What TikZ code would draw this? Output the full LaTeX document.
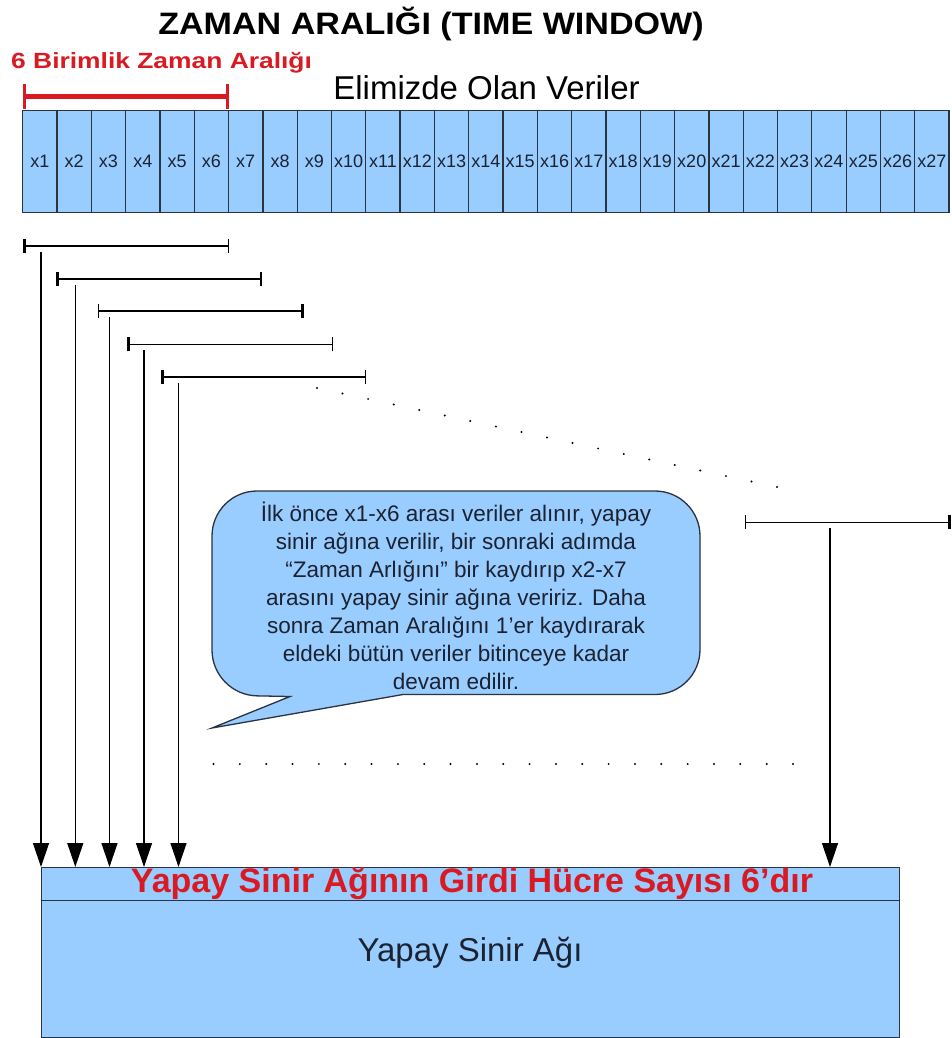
\documentclass[tikz,border=0pt]{standalone}
\usepackage{fontspec}
\setmainfont{Liberation Sans}
\newfontfamily\titlefont{Liberation Sans}[FakeStretch=1.1]
\newfontfamily\labelfont{Liberation Sans}[FakeStretch=1.2]
\usetikzlibrary{arrows.meta}

\definecolor{cellblue}{HTML}{99CCFF}
\definecolor{edge}{HTML}{2A3441}
\definecolor{hot}{HTML}{DA1A22}
\definecolor{ink}{HTML}{1B2230}

\tikzset{
  cell/.style={draw=edge, line width=1.3pt, fill=cellblue, inner sep=0pt,
    minimum width=34.31pt, minimum height=102pt,
    font=\fontsize{18}{20}\selectfont, text=ink},
  netbox/.style={draw=edge, line width=1.3pt, fill=cellblue, inner sep=0pt,
    minimum width=858pt, minimum height=170pt, anchor=north west},
  span/.style={line width=1.6pt},
  tick/.style={line width=1.3pt},
  heavytick/.style={line width=3pt},
  feed/.style={line width=1.3pt, -{Triangle[length=24pt,width=16pt]}},
  bubble/.style={draw=edge, line width=1.3pt, fill=cellblue},
  dot/.style={fill=black},
}

\begin{document}
\begin{tikzpicture}[x=1pt,y=-1pt]
\useasboundingbox (0,0) rectangle (952,1038);

% headings
\node[anchor=base, inner sep=0pt, font=\titlefont\bfseries\fontsize{31}{34}\selectfont]
  (title) at (431,35) {ZAMAN ARALIĞI (TIME WINDOW)};
\node[anchor=base west, inner sep=0pt, text=hot, font=\labelfont\bfseries\fontsize{22}{24}\selectfont]
  (winlabel) at (11,68.3) {6 Birimlik Zaman Aralığı};
\node[anchor=base, inner sep=0pt, font=\fontsize{33}{36}\selectfont]
  (datalabel) at (486.5,100) {Elimizde Olan Veriler};

% the data strip x1 ... x27
\foreach \i in {1,...,27}{
  \node[cell] (c\i) at ({22.7+34.31*\i-17.155},161.7) {x\i};
}

% red window marker over x1..x6
\coordinate (wl) at (24.7,96.7);
\coordinate (wr) at (227.7,96.7);
\draw[hot, line width=5pt] (wl) -- (wr);
\draw[hot, line width=3pt] ([yshift=-12pt]wl) -- ([yshift=13pt]wl);
\draw[hot, line width=3pt] ([yshift=-12pt]wr) -- ([yshift=13pt]wr);

% network block
\node[netbox] (net) at (41,867) {};
\coordinate (divl) at (41,900.7);
\coordinate (divr) at (899,900.7);
\draw[edge, line width=1.3pt] (divl) -- (divr);
\node[text=hot, font=\bfseries\fontsize{34}{36}\selectfont, inner sep=0pt]
  (inputs) at (472,884) {Yapay Sinir Ağının Girdi Hücre Sayısı 6’dır};
\node[text=ink, font=\fontsize{33}{36}\selectfont, inner sep=0pt]
  (netname) at (470,953) {Yapay Sinir Ağı};

% sliding windows: y, left end, right end, feed x, heavy end
\foreach \n/\y/\l/\r/\f/\h in {
   1/246/24.7/228.3/41/l,
   2/278.7/57.3/261/75.3/l,
   3/311/98.3/302/109.5/r,
   4/344.3/128.7/332.7/144/l,
   5/377/162/365.7/178.5/l,
   6/522.3/745.7/949/830/r}{
  \coordinate (s\n l) at (\l,\y);
  \coordinate (s\n r) at (\r,\y);
  \coordinate (s\n f) at (\f,\y+6);
  \draw[span] (s\n l) -- (s\n r);
  \if\h l
    \draw[heavytick] ([yshift=-7pt]s\n l) -- ([yshift=7pt]s\n l);
    \draw[tick] ([yshift=-7pt]s\n r) -- ([yshift=7pt]s\n r);
  \else
    \draw[tick] ([yshift=-7pt]s\n l) -- ([yshift=7pt]s\n l);
    \draw[heavytick] ([yshift=-7pt]s\n r) -- ([yshift=7pt]s\n r);
  \fi
  \draw[feed] (s\n f) -- (s\n f |- net.north);
}

% continuation dots
\foreach \k in {0,...,18}{
  \fill[dot] ({317+460*\k/18},{388+99*\k/18}) circle (1.1pt);
}
\foreach \k in {0,...,22}{
  \fill[dot] ({213.5+579.5*\k/22},764) circle (1.1pt);
}

% explanation callout
\draw[bubble] (212,728) -- (403,694.5)
  [rounded corners=45pt] -- (700,694.5) -- (700,491) -- (212,491) -- (212,695)
  [sharp corners] -- (290,696.5) -- cycle;
\node[align=center, text=ink, font=\fontsize{22.5}{28}\selectfont, inner sep=0pt]
  (note) at (456,596) {İlk önce x1-x6 arası veriler alınır, yapay\\
  sinir ağına verilir, bir sonraki adımda\\
  “Zaman Arlığını” bir kaydırıp x2-x7\\
  arasını yapay sinir ağına veririz. Daha\\
  sonra Zaman Aralığını 1’er kaydırarak\\
  eldeki bütün veriler bitinceye kadar\\
  devam edilir.};
\end{tikzpicture}
\end{document}
